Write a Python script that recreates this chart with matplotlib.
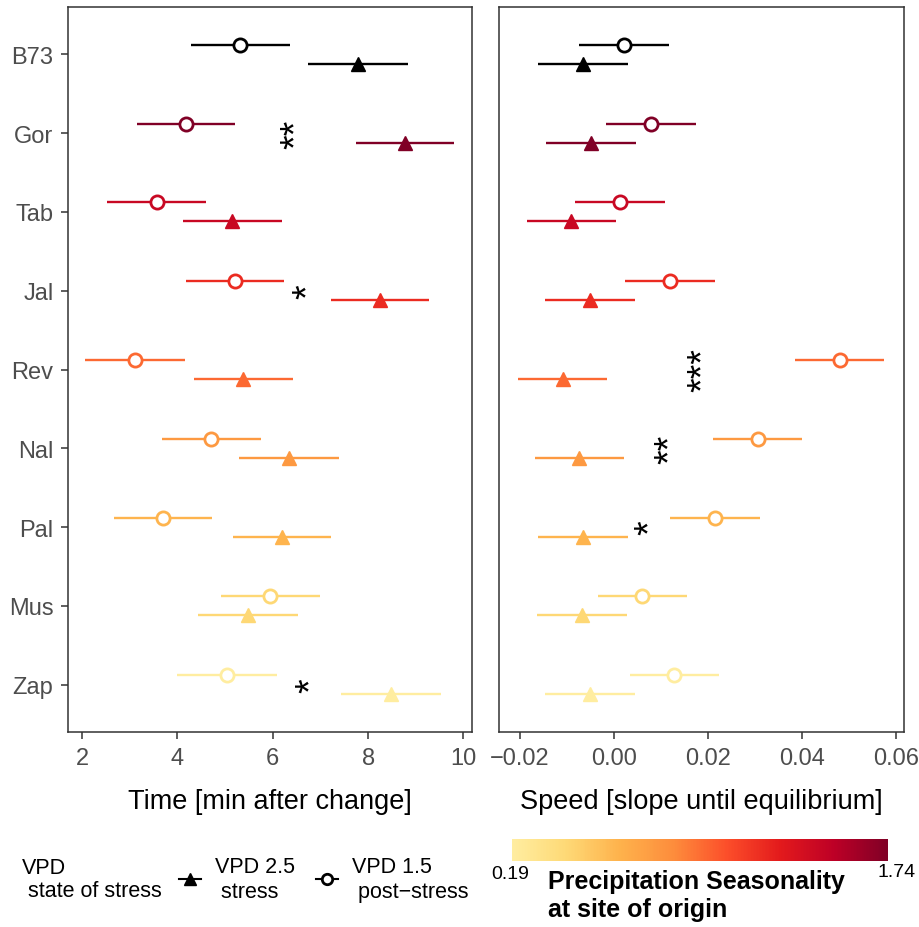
import matplotlib
matplotlib.use("Agg")
import matplotlib.pyplot as plt
import numpy as np
from matplotlib.colors import LinearSegmentedColormap, Normalize
from matplotlib.colorbar import ColorbarBase
from matplotlib.lines import Line2D
from matplotlib.transforms import offset_copy

plt.rcParams['font.family'] = ['Liberation Sans', 'DejaVu Sans']

# populations, top to bottom
pops = ["B73", "Gor", "Tab", "Jal", "Rev", "Nal", "Pal", "Mus", "Zap"]
# precipitation seasonality at site of origin (B73 has none -> black)
seasonality = [None, 1.74, 1.45, 1.22, 0.98, 0.78, 0.62, 0.42, 0.19]

# time [min after change]
time_stress = [7.79, 8.78, 5.15, 8.25, 5.38, 6.34, 6.20, 5.48, 8.48]
time_post = [5.32, 4.18, 3.57, 5.21, 3.11, 4.71, 3.70, 5.95, 5.04]
time_se = [1.04, 1.03, 1.04, 1.03, 1.04, 1.04, 1.03, 1.04, 1.04]

# speed [slope until equilibrium]
speed_stress = [-0.0066, -0.0049, -0.0091, -0.0051, -0.0109, -0.0074, -0.0066, -0.0068, -0.0051]
speed_post = [0.0021, 0.0079, 0.0013, 0.0119, 0.0480, 0.0306, 0.0215, 0.0060, 0.0128]
speed_se = [0.0095, 0.0095, 0.0095, 0.0095, 0.0095, 0.0095, 0.0095, 0.0095, 0.0095]

# significance labels (population, x position, stars)
sig_time = [("Gor", 6.3, "**"), ("Jal", 6.55, "*"), ("Zap", 6.6, "*")]
sig_speed = [("Rev", 0.0170, "***"), ("Nal", 0.0100, "**"), ("Pal", 0.0057, "*")]

cmap = LinearSegmentedColormap.from_list(
    "ylorrd", ["#ffeda0", "#fed976", "#feb24c", "#fd8d3c", "#fc4e2a",
               "#e31a1c", "#bd0026", "#800026"])
norm = Normalize(vmin=0.19, vmax=1.74)
colors = ["black" if s is None else cmap(norm(s)) for s in seasonality]

fig = plt.figure(figsize=(9.2, 9.28), dpi=100)
ax1 = fig.add_axes([68 / 920, 1 - 733 / 928, 404 / 920, 725 / 928])
ax2 = fig.add_axes([499 / 920, 1 - 733 / 928, 405 / 920, 725 / 928])

ypos = np.arange(len(pops))
dodge = 0.12


def draw(ax, stress, post, se, sig, xlim, xticks, xticklabels, xlabel):
    for i in range(len(pops)):
        ax.errorbar(post[i], ypos[i] - dodge, xerr=se[i], fmt='o', color=colors[i],
                    mfc='white', mec=colors[i], mew=2, ms=9.5, elinewidth=1.7,
                    capsize=0, zorder=3)
        ax.errorbar(stress[i], ypos[i] + dodge, xerr=se[i], fmt='^', color=colors[i],
                    mfc=colors[i], mec=colors[i], ms=10.5, elinewidth=1.7,
                    capsize=0, zorder=3)
    # rotated stars sit off-centre, so nudge them right a little
    star_tr = offset_copy(ax.transData, fig=fig, x=10, y=0, units='dots')
    for pop, x, stars in sig:
        ax.text(x, pops.index(pop), stars, rotation=90, ha='center', va='center',
                fontsize=27, color='black', transform=star_tr)
    ax.set_xlim(*xlim)
    ax.set_ylim(len(pops) - 0.4, -0.6)
    ax.set_xticks(xticks)
    ax.set_xticklabels(xticklabels)
    ax.set_xlabel(xlabel, fontsize=19.5, labelpad=14)
    for sp in ax.spines.values():
        sp.set_color('#333333')
        sp.set_linewidth(1.1)
    ax.tick_params(axis='both', colors='#333333', length=5, width=1.1,
                   labelsize=17, labelcolor='#4D4D4D', pad=5.5)


draw(ax1, time_stress, time_post, time_se, sig_time, (1.706, 10.18),
     [2, 4, 6, 8, 10], ["2", "4", "6", "8", "10"], "Time [min after change]")
ax1.set_yticks(ypos)
ax1.set_yticklabels(pops)

draw(ax2, speed_stress, speed_post, speed_se, sig_speed, (-0.02447, 0.0617),
     [-0.02, 0.0, 0.02, 0.04, 0.06],
     ["\u22120.02", "0.00", "0.02", "0.04", "0.06"], "Speed [slope until equilibrium]")
ax2.set_yticks([])

# shape legend
fig.text(22 / 920, 1 - 880 / 928, "VPD\n state of stress", fontsize=15.5,
         ha='left', va='center', linespacing=1.15)
handles = [Line2D([], [], color='black', marker='^', ms=8.5, lw=1.5),
           Line2D([], [], color='black', marker='o', ms=7.5, mfc='white', mew=2, lw=1.5)]
fig.legend(handles, ["VPD 2.5\n stress", "VPD 1.5\n post\u2212stress"],
           loc='center left', bbox_to_anchor=(160 / 920, 1 - 880 / 928), ncol=2,
           frameon=False, fontsize=15.5, handlelength=1.0, handletextpad=0.65,
           columnspacing=1.0)

# colour bar
cax = fig.add_axes([512 / 920, 1 - 862 / 928, 376 / 920, 22 / 928])
cb = ColorbarBase(cax, cmap=cmap, norm=norm, orientation='horizontal')
cb.set_ticks([])
cb.outline.set_visible(False)
cax.text(-0.005, -0.2, "0.19", transform=cax.transAxes, ha='center', va='top',
         fontsize=14)
cax.text(1.024, -0.1, "1.74", transform=cax.transAxes, ha='center', va='top',
         fontsize=14)
fig.text(548 / 920, 1 - 870 / 928, "Precipitation Seasonality\nat site of origin",
         fontsize=18, fontweight='bold', ha='left', va='top', linespacing=1.2)

fig.savefig("out.png", dpi=100)
